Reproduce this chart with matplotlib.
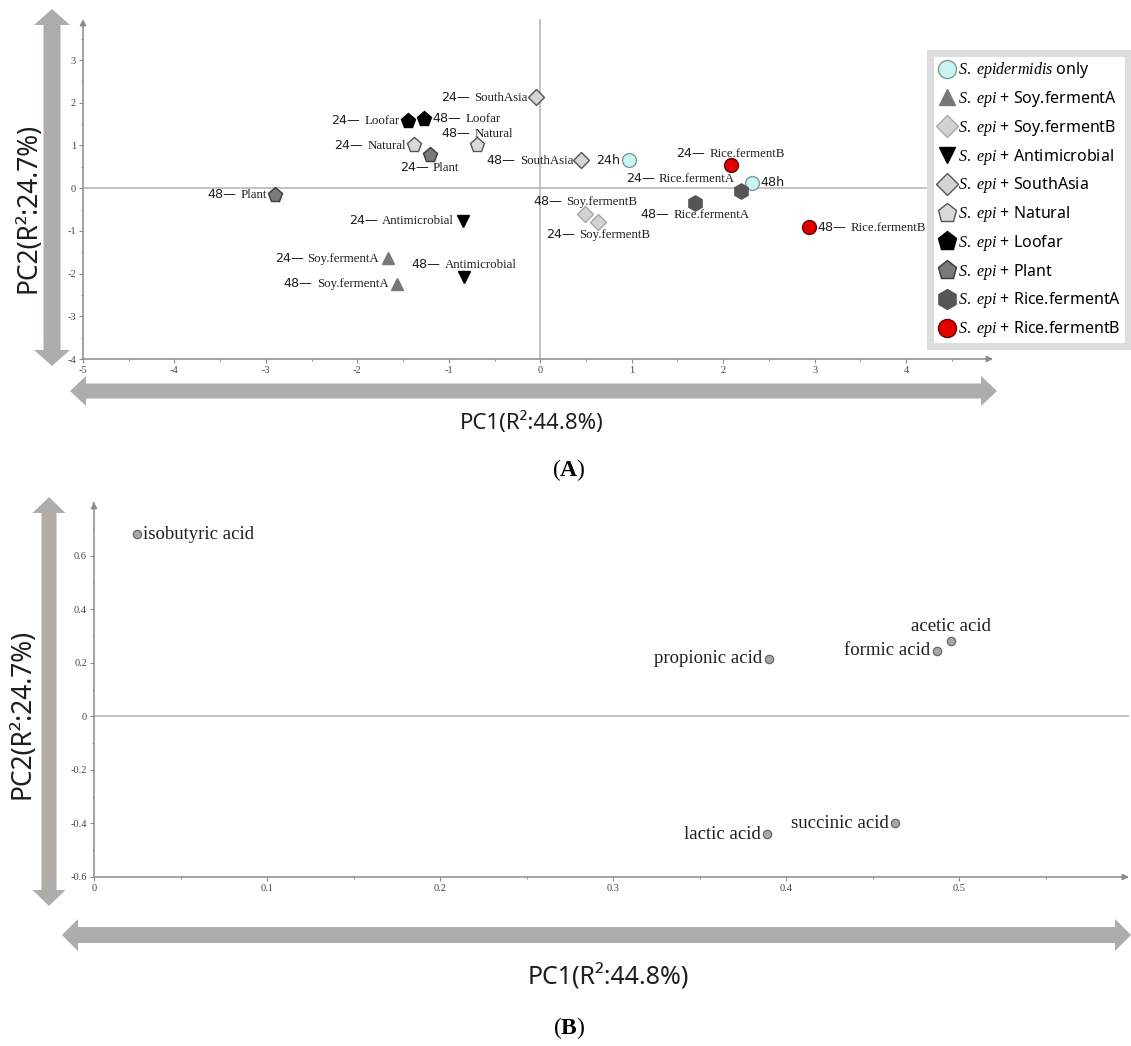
import matplotlib
matplotlib.use("Agg")
import matplotlib.pyplot as plt
from matplotlib.patches import Polygon
from matplotlib.offsetbox import TextArea, HPacker, AnnotationBbox
from matplotlib.lines import Line2D
from matplotlib.ticker import MultipleLocator

plt.rcParams['mathtext.fontset'] = 'custom'
plt.rcParams['mathtext.it'] = 'Liberation Serif:italic'
plt.rcParams['mathtext.rm'] = 'Liberation Serif'
plt.rcParams['mathtext.bf'] = 'Liberation Serif:bold'
plt.rcParams['axes.unicode_minus'] = False

# ---------------- data ----------------
group_names = ["only", "Soy.fermentA", "Soy.fermentB", "Antimicrobial", "SouthAsia",
               "Natural", "Loofar", "Plant", "Rice.fermentA", "Rice.fermentB"]

sample_group = [0, 0, 1, 1, 2, 2, 3, 3, 4, 4, 5, 5, 6, 6, 7, 7, 8, 8, 9, 9]
sample_time = ["24", "48"] * 10
pc1_scores = [0.97, 2.32, -1.67, -1.57, 0.63, 0.49, -0.85, -0.83, -0.05, 0.45,
              -1.38, -0.69, -1.45, -1.27, -1.21, -2.90, 2.20, 1.69, 2.08, 2.94]
pc2_scores = [0.65, 0.13, -1.64, -2.24, -0.80, -0.60, -0.76, -2.08, 2.13, 0.65,
              1.01, 1.00, 1.58, 1.62, 0.77, -0.16, -0.07, -0.34, 0.54, -0.92]

acid_names = ["isobutyric acid", "acetic acid", "formic acid", "propionic acid",
              "lactic acid", "succinic acid"]
acid_pc1 = [0.025, 0.495, 0.487, 0.390, 0.389, 0.463]
acid_pc2 = [0.680, 0.281, 0.244, 0.214, -0.441, -0.400]

top_xticks = [-5, -4, -3, -2, -1, 0, 1, 2, 3, 4]
top_yticks = [-4, -3, -2, -1, 0, 1, 2, 3]
bot_xticks = [0, 0.1, 0.2, 0.3, 0.4, 0.5]
bot_xticklabels = ["0", "0.1", "0.2", "0.3", "0.4", "0.5"]
bot_yticks = [-0.6, -0.4, -0.2, 0, 0.2, 0.4, 0.6]
bot_yticklabels = ["-0.6", "-0.4", "-0.2", "0", "0.2", "0.4", "0.6"]

pc1_title = "PC1(R²:44.8%)"
pc2_title = "PC2(R²:24.7%)"

# ---------------- style ----------------
markers = ['o', '^', 'D', 'v', 'D', 'p', 'p', 'p', 'h', 'o']
faces = ['#c8f4f4', '#777777', '#d2d2d2', '#000000', '#d4d4d4',
         '#d9d9d9', '#000000', '#7a7a7a', '#555555', '#e00000']
edges = ['#7f9a9a', '#777777', '#a9a9a9', '#000000', '#555555',
         '#555555', '#000000', '#3a3a3a', '#555555', '#6a0000']
msizes = [10, 9, 8.3, 9, 8.3, 11, 11, 11, 11, 10]
label_side = ['left', 'right', 'left', 'left', 'below', 'above', 'left', 'above',
              'left', 'left', 'left', 'above', 'left', 'right', 'below', 'left',
              'upleft', 'below', 'above', 'right']
acid_side = ['right', 'above', 'left', 'left', 'left', 'left']

W, H = 1131, 1046
fig = plt.figure(figsize=(W / 100, H / 100), dpi=100)
fig.patch.set_facecolor('white')


def rect(l, t, r, b):
    return [l / W, 1 - b / H, (r - l) / W, (b - t) / H]


AX_GRAY = '#8c8c8c'
ZERO_GRAY = '#bdbdbd'
BIG_GRAY = '#b0acaa'
TXT = '#1e1e1e'


def style_axes(ax):
    for s in ax.spines.values():
        s.set_visible(False)
    ax.annotate('', xy=(1.0, 0), xytext=(0, 0), xycoords='axes fraction',
                arrowprops=dict(arrowstyle='-|>', color=AX_GRAY, lw=1.1,
                                mutation_scale=9, shrinkA=0, shrinkB=0))
    ax.annotate('', xy=(0, 1.0), xytext=(0, 0), xycoords='axes fraction',
                arrowprops=dict(arrowstyle='-|>', color=AX_GRAY, lw=1.1,
                                mutation_scale=9, shrinkA=0, shrinkB=0))
    ax.tick_params(which='major', direction='out', length=3, width=0.8,
                   color=AX_GRAY, labelsize=7.5, labelcolor='#444444', pad=2)
    ax.tick_params(which='minor', direction='out', length=1.5, width=0.7,
                   color=AX_GRAY)
    for lbl in ax.get_xticklabels() + ax.get_yticklabels():
        lbl.set_fontfamily('Liberation Serif')


# ---------------- panel A ----------------
ax1 = fig.add_axes(rect(83, 19, 993, 359))
ax1.set_xlim(-5, 4.95)
ax1.set_ylim(-4, 3.96)
ax1.set_xticks(top_xticks)
ax1.set_yticks(top_yticks)
ax1.xaxis.set_minor_locator(MultipleLocator(0.5))
ax1.yaxis.set_minor_locator(MultipleLocator(0.5))
style_axes(ax1)
ax1.axhline(0, color=ZERO_GRAY, lw=1.3, zorder=1)
ax1.axvline(0, color=ZERO_GRAY, lw=1.3, zorder=1)

for g in range(len(group_names)):
    xs = [pc1_scores[i] for i in range(len(pc1_scores)) if sample_group[i] == g]
    ys = [pc2_scores[i] for i in range(len(pc2_scores)) if sample_group[i] == g]
    ax1.plot(xs, ys, ls='none', marker=markers[g], ms=msizes[g],
             mfc=faces[g], mec=edges[g], mew=1.0, zorder=3)

side_map = {
    'left': ((1, 0.5), (-6, 0)),
    'right': ((0, 0.5), (6, 0)),
    'above': ((0.5, 0), (0, 4)),
    'below': ((0.5, 1), (0, -4)),
    'upleft': ((1, 0.5), (-5, 9)),
}
sans_p = dict(family='DejaVu Sans', size=9.2, color=TXT)
serif_p = dict(family='Liberation Serif', size=9.3, color=TXT)
for i in range(len(pc1_scores)):
    g = sample_group[i]
    if g == 0:
        box = TextArea(sample_time[i] + "h", textprops=sans_p)
    else:
        box = HPacker(children=[TextArea(sample_time[i] + "—", textprops=sans_p),
                                TextArea(group_names[g], textprops=serif_p)],
                      align='baseline', pad=0, sep=3)
    ba, off = side_map[label_side[i]]
    ab = AnnotationBbox(box, (pc1_scores[i], pc2_scores[i]), xybox=off,
                        xycoords='data', boxcoords='offset points',
                        box_alignment=ba, frameon=False, pad=0, zorder=4)
    ax1.add_artist(ab)

# legend
handles = [Line2D([], [], ls='none', marker=markers[g], ms=msizes[g] * 1.3,
                  mfc=faces[g], mec=edges[g], mew=1.0) for g in range(len(group_names))]
labels = [r"$\mathit{S.\ epidermidis}$ only"] + \
         [r"$\mathit{S.\ epi}$" + " + " + n for n in group_names[1:]]
leg = fig.legend(handles, labels, loc='upper left',
                 bbox_to_anchor=(930 / W, 1 - 53 / H), borderaxespad=0,
                 prop={'family': 'Noto Sans', 'size': 11.5},
                 labelspacing=0.55, handletextpad=0.1, handlelength=1.2,
                 borderpad=0.45, fancybox=False, framealpha=1,
                 facecolor='white', edgecolor='#dedede')
leg.get_frame().set_linewidth(5)
leg.set_zorder(10)

# ---------------- panel B ----------------
ax2 = fig.add_axes(rect(94, 502, 1129, 877))
ax2.set_xlim(0, 0.598)
ax2.set_ylim(-0.6, 0.8)
ax2.set_xticks(bot_xticks)
ax2.set_xticklabels(bot_xticklabels)
ax2.set_yticks(bot_yticks)
ax2.set_yticklabels(bot_yticklabels)
ax2.xaxis.set_minor_locator(MultipleLocator(0.05))
ax2.yaxis.set_minor_locator(MultipleLocator(0.1))
style_axes(ax2)
ax2.axhline(0, color=ZERO_GRAY, lw=1.3, zorder=1)
ax2.plot(acid_pc1, acid_pc2, ls='none', marker='o', ms=6, mfc='#a8a8a8',
         mec='#666666', mew=0.9, zorder=3)
acid_map = {
    'left': ('right', 'center', (-5, 0)),
    'right': ('left', 'center', (4, 0)),
    'above': ('center', 'bottom', (0, 4)),
}
for n, x, y, s in zip(acid_names, acid_pc1, acid_pc2, acid_side):
    ha, va, off = acid_map[s]
    ax2.annotate(n, (x, y), xytext=off, textcoords='offset points', ha=ha, va=va,
                 fontfamily='Liberation Serif', fontsize=13.5, color=TXT, zorder=4)


# ---------------- big arrows & titles ----------------
def big_arrow(x0, y0, x1, y1, shaft, head_w, head_l):
    # double-headed arrow in pixel coords (y down)
    import math
    dx, dy = x1 - x0, y1 - y0
    L = math.hypot(dx, dy)
    ux, uy = dx / L, dy / L
    nx, ny = -uy, ux

    def P(s, t):
        return ((x0 + ux * s + nx * t) / W, 1 - (y0 + uy * s + ny * t) / H)
    pts = [P(0, 0), P(head_l, head_w / 2), P(head_l, shaft / 2),
           P(L - head_l, shaft / 2), P(L - head_l, head_w / 2), P(L, 0),
           P(L - head_l, -head_w / 2), P(L - head_l, -shaft / 2),
           P(head_l, -shaft / 2), P(head_l, -head_w / 2)]
    fig.patches.append(Polygon(pts, closed=True, transform=fig.transFigure,
                               facecolor=BIG_GRAY, edgecolor='none', figure=fig))


big_arrow(52, 9, 52, 366, 17, 36, 16)
big_arrow(70, 391, 997, 391, 15, 30, 16)
big_arrow(49, 497, 49, 906, 15, 33, 16)
big_arrow(62, 935, 1131, 935, 16, 32, 16)

fig.text(29 / W, 1 - 208 / H, pc2_title, rotation=90, ha='center', va='center',
         family='Noto Sans', fontsize=19, color=TXT)
fig.text(532 / W, 1 - 423 / H, pc1_title, ha='center', va='center',
         family='Noto Sans', fontsize=16, color=TXT)
fig.text(569 / W, 1 - 470 / H, r"($\mathbf{A}$)", ha='center', va='center',
         family='Liberation Serif', fontsize=17, color='black')

fig.text(22 / W, 1 - 714 / H, pc2_title, rotation=90, ha='center', va='center',
         family='Noto Sans', fontsize=19, color=TXT)
fig.text(608 / W, 1 - 977 / H, pc1_title, ha='center', va='center',
         family='Noto Sans', fontsize=18, color=TXT)
fig.text(569 / W, 1 - 1028 / H, r"($\mathbf{B}$)", ha='center', va='center',
         family='Liberation Serif', fontsize=17, color='black')

fig.savefig("out.png", dpi=100, facecolor='white')
